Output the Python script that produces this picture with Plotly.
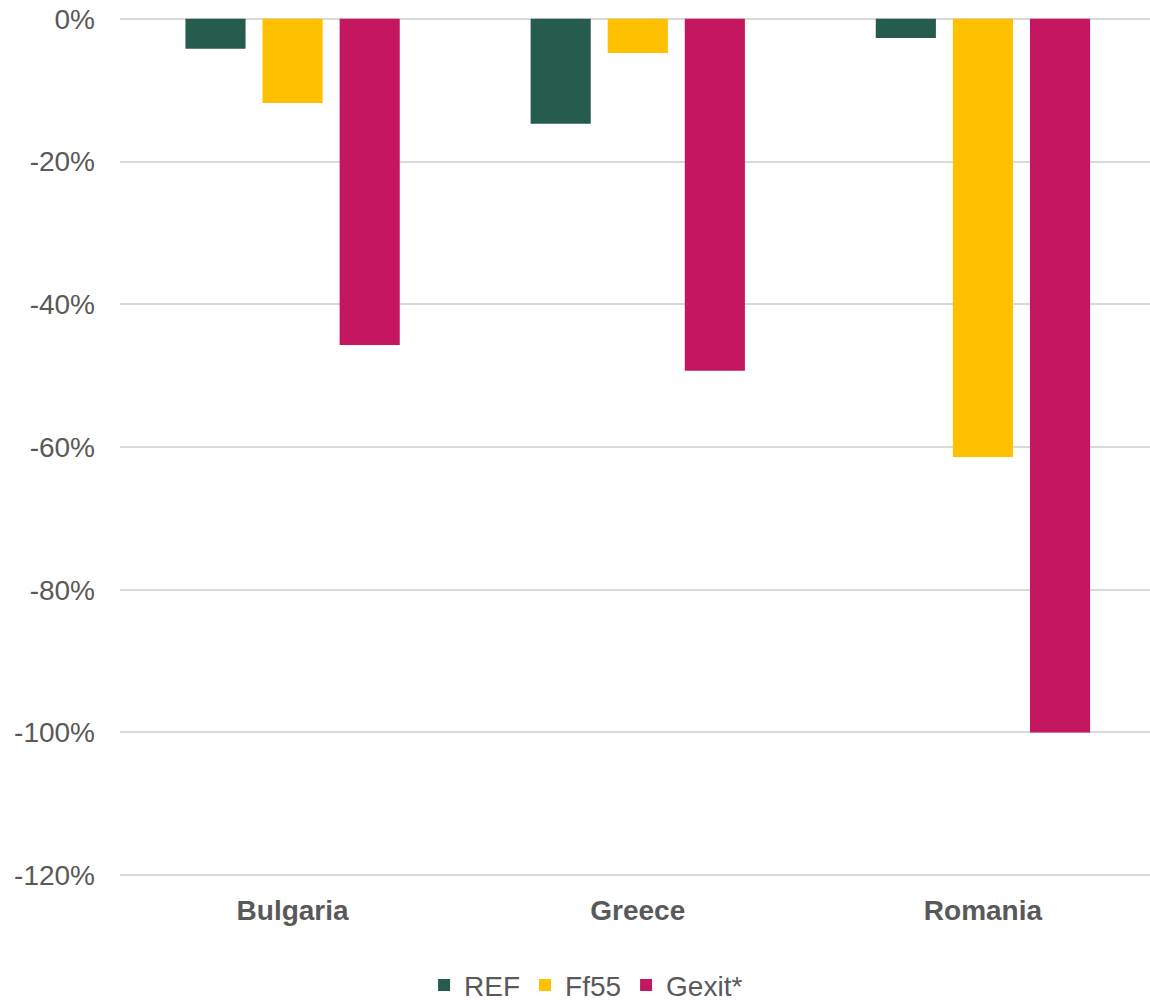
import plotly.graph_objects as go

countries = ["Bulgaria", "Greece", "Romania"]
ref_vals = [-4.2, -14.7, -2.7]
ff55_vals = [-11.8, -4.8, -61.4]
gexit_vals = [-45.7, -49.3, -100.0]

y_ticks = [0, -20, -40, -60, -80, -100, -120]
y_labels = ["0%", "-20%", "-40%", "-60%", "-80%", "-100%", "-120%"]

FONT = "Liberation Sans, Arial, sans-serif"
GREY = "#595959"

fig = go.Figure()
for name, vals, col in [("REF", ref_vals, "#265C4D"),
                        ("Ff55", ff55_vals, "#FFC000"),
                        ("Gexit*", gexit_vals, "#C5175F")]:
    fig.add_trace(go.Bar(x=countries, y=vals, name=name,
                         marker=dict(color=col, line=dict(width=0))))

fig.update_layout(
    width=1150, height=1002,
    margin=dict(l=120, r=0, t=16, b=124, autoexpand=False),
    plot_bgcolor="white", paper_bgcolor="white",
    barmode="group", bargap=0.33, bargroupgap=0.22,
    font=dict(family=FONT, color=GREY, size=28),
    legend=dict(orientation="h", x=0.2952, xanchor="left",
                y=-0.1245, yanchor="middle",
                font=dict(size=28, color=GREY),
                traceorder="normal"),
)
fig.update_xaxes(range=[-0.5, 2.484], showgrid=False, showline=False,
                 automargin=False, ticks="",
                 tickfont=dict(size=28, color=GREY, weight="bold"),
                 ticklabelstandoff=13)
fig.update_yaxes(range=[-120.4, 0.4], tickvals=y_ticks, ticktext=y_labels,
                 showgrid=True, gridcolor="#D9D9D9", gridwidth=2,
                 zeroline=True, zerolinecolor="#D9D9D9", zerolinewidth=2,
                 showline=False, ticks="", ticklabelstandoff=24,
                 automargin=False, tickfont=dict(size=28, color=GREY))

# drop the default page margin so the figure sits at the window's corner
fig.write_html("out.html", config={"displayModeBar": False},
               post_script="document.body.style.margin='0';")
